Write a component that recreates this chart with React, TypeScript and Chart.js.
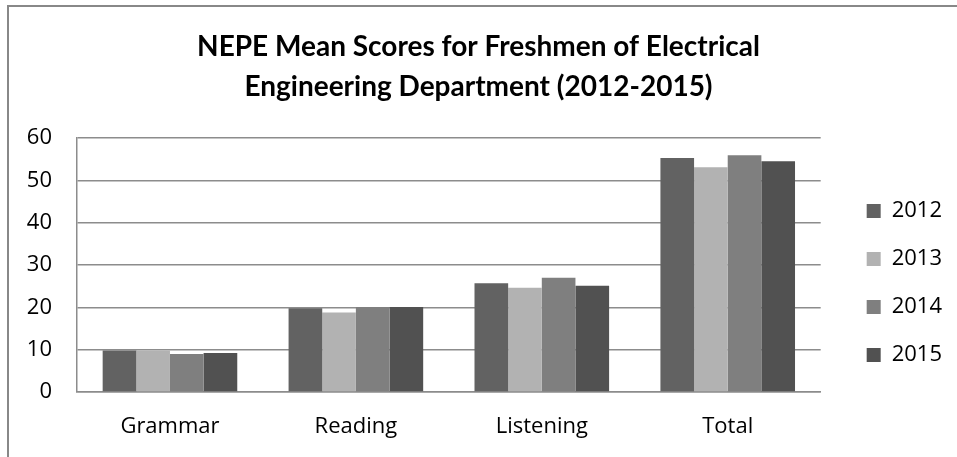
import { useEffect, useRef } from 'react';
import { Chart, registerables } from 'chart.js';

Chart.register(...registerables);

// NEPE mean scores by test section, one series per freshman cohort
const categories = ['Grammar', 'Reading', 'Listening', 'Total'];
const years = ['2012', '2013', '2014', '2015'];
const scores2012 = [9.8, 19.8, 25.7, 55.3];
const scores2013 = [9.8, 18.8, 24.6, 53.1];
const scores2014 = [9.0, 20.1, 27.0, 55.9];
const scores2015 = [9.2, 20.1, 25.1, 54.5];
const yMax = 60;
const yStep = 10;
const titleLines = ['NEPE Mean Scores for Freshmen of Electrical', 'Engineering Department (2012-2015)'];

const seriesValues = [scores2012, scores2013, scores2014, scores2015];
const seriesColors = ['#626262', '#b2b2b2', '#7f7f7f', '#515151'];

const TITLE_FONT = 'Lato, "Open Sans", sans-serif';
const LABEL_FONT = '"Open Sans", Lato, sans-serif';
const GRID = '#8c8c8c';

export default function App() {
  const canvasRef = useRef<HTMLCanvasElement | null>(null);

  useEffect(() => {
    if (!canvasRef.current) return;
    const chart = new Chart(canvasRef.current, {
      type: 'bar',
      data: {
        labels: categories,
        datasets: years.map((year, i) => ({
          label: year,
          data: seriesValues[i],
          backgroundColor: seriesColors[i],
          borderWidth: 0,
          categoryPercentage: 0.724,
          barPercentage: 1.0,
        })),
      },
      options: {
        animation: false,
        responsive: false,
        maintainAspectRatio: false,
        layout: { padding: { left: 5, right: 5, top: 0, bottom: 0 } },
        plugins: {
          title: {
            display: true,
            text: titleLines,
            color: '#000',
            font: { family: TITLE_FONT, size: 28, weight: 'bold', lineHeight: 40 / 28 },
            padding: { top: 27, bottom: 31 },
          },
          legend: {
            display: true,
            position: 'right',
            align: 'end',
            fullSize: false,
            labels: {
              boxWidth: 14,
              boxHeight: 14,
              padding: 26,
              color: '#000',
              font: { family: LABEL_FONT, size: 22 },
            },
          },
          tooltip: { enabled: false },
        },
        scales: {
          x: {
            grid: { display: false, drawTicks: false },
            border: { display: true, color: GRID, width: 1.5 },
            ticks: { color: '#000', font: { family: LABEL_FONT, size: 22 }, padding: 22 },
            afterFit: (scale: any) => {
              scale.height = 65;
            },
          },
          y: {
            min: 0,
            max: yMax,
            ticks: { stepSize: yStep, color: '#000', font: { family: LABEL_FONT, size: 22 }, padding: 25 },
            grid: { color: GRID, lineWidth: 1.5, drawTicks: false },
            border: { display: true, color: GRID, width: 1.5 },
            afterFit: (scale: any) => {
              scale.width = 72;
            },
          },
          gap: {
            type: 'linear',
            position: 'right',
            display: true,
            grid: { display: false, drawTicks: false },
            border: { display: false },
            ticks: { display: false },
            afterFit: (scale: any) => {
              scale.width = 20;
            },
          },
        },
      },
    });
    return () => chart.destroy();
  }, []);

  return (
    <div style={{ position: 'fixed', left: 0, top: 0, width: 957, height: 457, background: '#fff' }}>
      <div
        style={{
          position: 'absolute',
          left: 7,
          top: 5,
          width: 950,
          height: 452,
          borderLeft: '2px solid #888',
          borderTop: '2px solid #888',
          boxSizing: 'border-box',
        }}
      />
      <canvas
        ref={canvasRef}
        width={957}
        height={457}
        style={{ position: 'absolute', left: 0, top: 0, width: 957, height: 457 }}
      />
    </div>
  );
}
